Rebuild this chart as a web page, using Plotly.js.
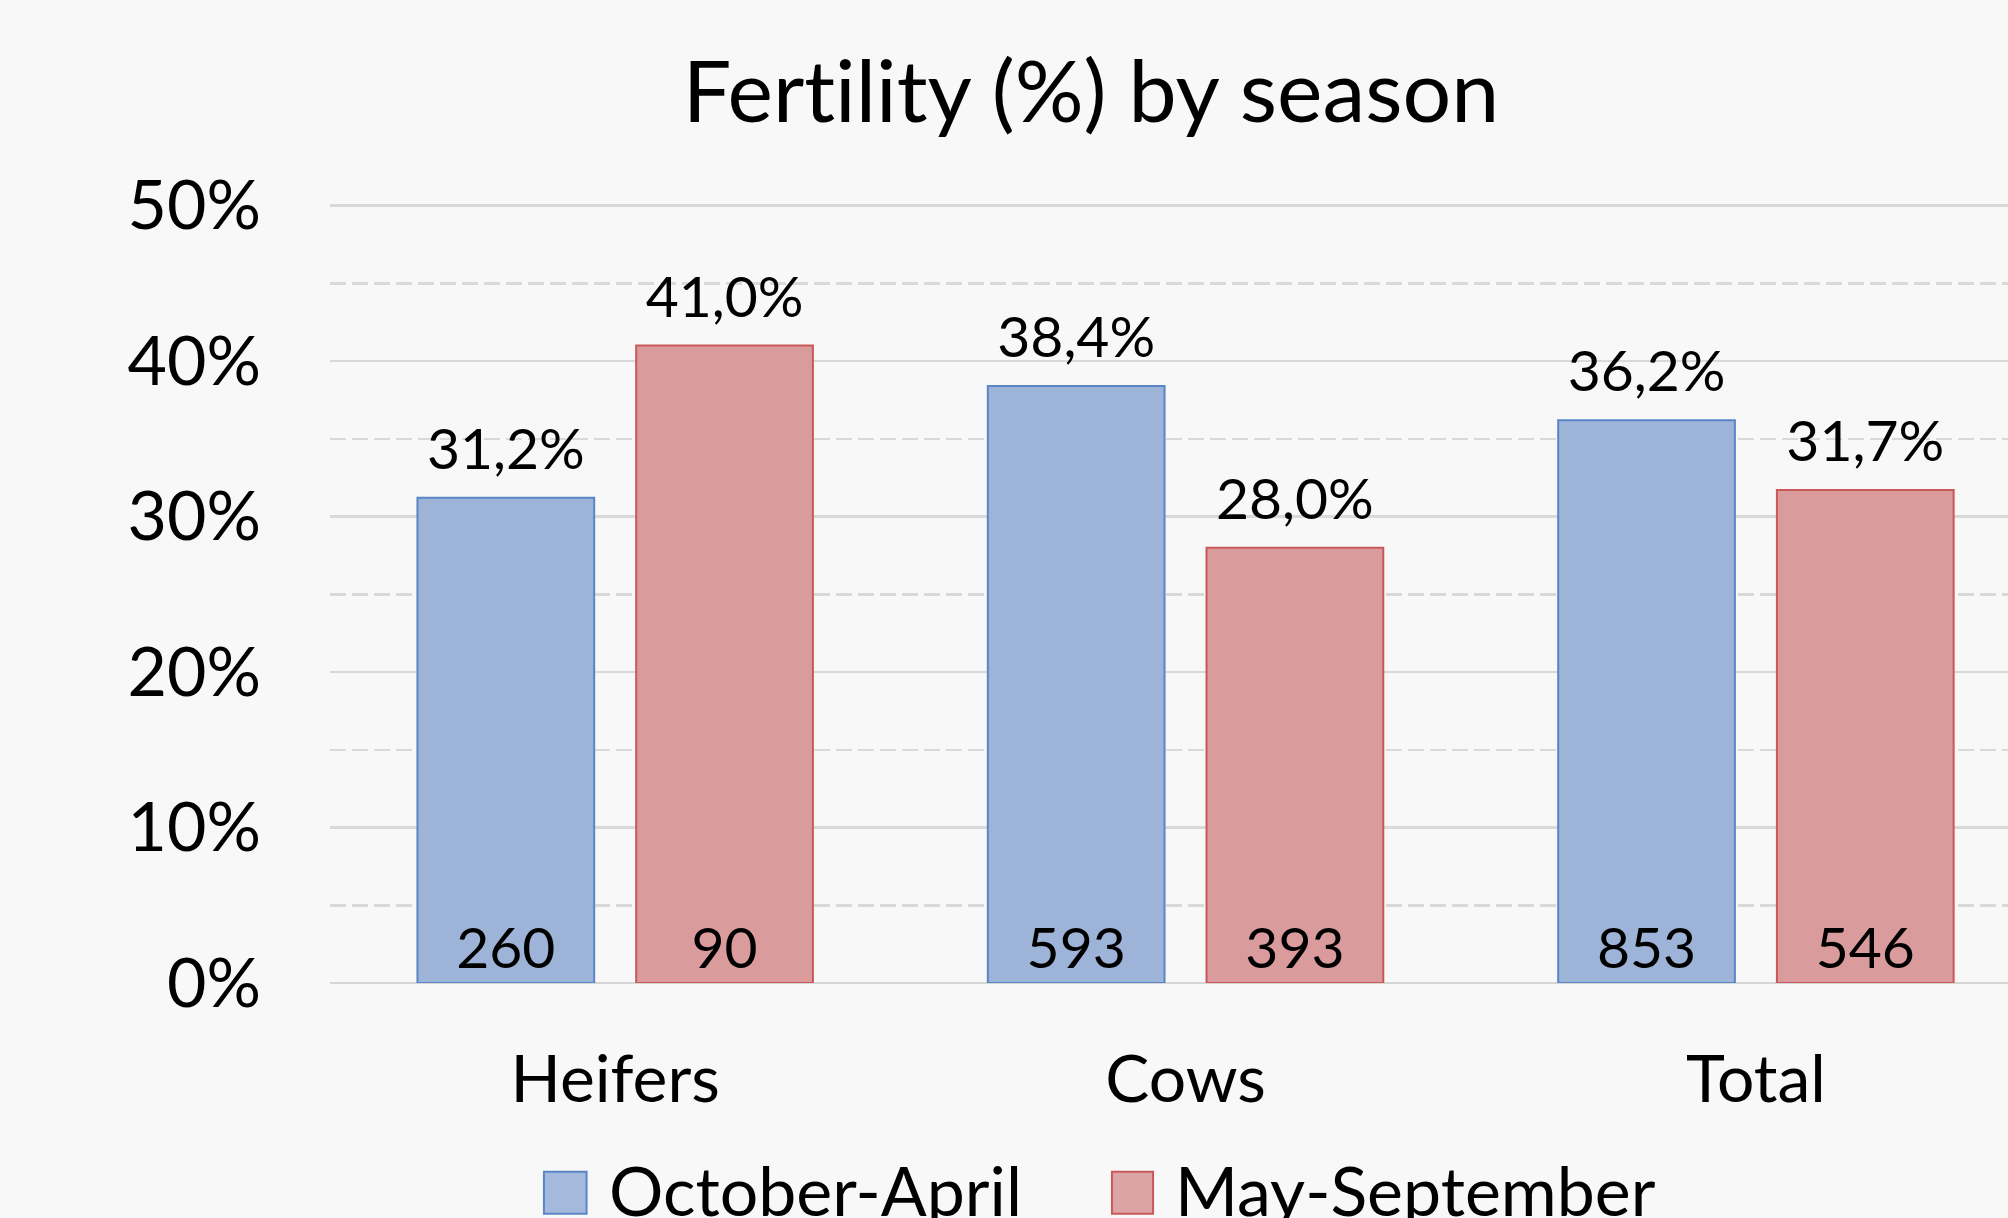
<!DOCTYPE html>
<html>
<head>
<meta charset="utf-8">
<script src="https://cdn.plot.ly/plotly-3.0.1.min.js"></script>
<style>html,body{margin:0;padding:0;background:#f8f8f8;}#chart{width:2008px;height:1218px;}
text{font-variant-ligatures:none;font-feature-settings:"liga" 0;}</style>
</head>
<body>
<div id="chart"></div>
<script>
// ---- data ----
const categories = ['Heifers', 'Cows', 'Total'];
const seriesNames = ['October-April', 'May-September'];
const octAprPct = [31.2, 38.4, 36.2];
const maySepPct = [41.0, 28.0, 31.7];
const octAprN = [260, 593, 853];
const maySepN = [90, 393, 546];
const yTicks = [0, 10, 20, 30, 40, 50];

const FONT = 'Lato, "Open Sans", sans-serif';
const blueFill = '#9db3d8', blueLine = '#5a86c6';
const redFill = '#d99b9b', redLine = '#c9585a';
const LABEL_PAD = 0.9; // label lift above bar top (axis units), style only

function countTrace(name, y, n, fill, line, grp) {
  return {
    type: 'bar', name: name, x: categories, y: y, offsetgroup: grp,
    marker: {color: fill, line: {color: line, width: 2}},
    text: n.map(String), textposition: 'inside', insidetextanchor: 'start',
    insidetextfont: {family: FONT, size: 57, color: '#000'},
    showlegend: false, hoverinfo: 'skip'
  };
}
function pctTrace(name, y, grp) {
  return {
    type: 'bar', name: name, x: categories, base: y, y: y.map(() => LABEL_PAD), offsetgroup: grp,
    marker: {color: 'rgba(0,0,0,0)', line: {width: 0}},
    text: y.map(v => v.toFixed(1).replace('.', ',') + '%'), textposition: 'outside', cliponaxis: false,
    outsidetextfont: {family: FONT, size: 57, color: '#000'},
    showlegend: false, hoverinfo: 'skip'
  };
}

const data = [
  countTrace(seriesNames[0], octAprPct, octAprN, blueFill, blueLine, 'a'),
  countTrace(seriesNames[1], maySepPct, maySepN, redFill, redLine, 'b'),
  pctTrace(seriesNames[0], octAprPct, 'a'),
  pctTrace(seriesNames[1], maySepPct, 'b')
];

// legend (drawn manually to get large symbols)
const legendItems = [
  {name: seriesNames[0], fill: '#a4b9db', line: blueLine, x0: 0.1275, x1: 0.1529, tx: 0.1651},
  {name: seriesNames[1], fill: '#dba5a5', line: redLine, x0: 0.4660, x1: 0.4905, tx: 0.5024}
];

const layout = {
  width: 2008, height: 1218,
  paper_bgcolor: '#f8f8f8', plot_bgcolor: '#f8f8f8',
  separators: ',.',
  margin: {l: 330, r: 0, t: 204, b: 235, pad: 0},
  font: {family: FONT, color: '#000'},
  title: {text: 'Fertility (%) by season', font: {family: FONT, size: 86, color: '#000'},
          x: 0.5433, xref: 'container', xanchor: 'center', y: 0.9245, yref: 'container', yanchor: 'middle'},
  barmode: 'group', bargap: 0.233, bargroupgap: 0.192,
  xaxis: {type: 'category', range: [-0.5, 2.442], showgrid: false, zeroline: false, showline: false,
          ticks: '', tickfont: {family: FONT, size: 66, color: '#000'}, ticklabelstandoff: 52, fixedrange: true},
  yaxis: {range: [0, 50.1], tickvals: yTicks, ticktext: yTicks.map(v => v + '%'),
          showgrid: true, gridcolor: '#d9d9d9', gridwidth: 2.5,
          zeroline: true, zerolinecolor: '#d6d6d6', zerolinewidth: 2.5, showline: false,
          minor: {dtick: 5, showgrid: true, gridcolor: '#d9d9d9', gridwidth: 2.5, griddash: '16px,6px', ticks: ''},
          ticks: '', tickfont: {family: FONT, size: 68, color: '#000'}, ticklabelstandoff: 68, fixedrange: true},
  showlegend: false,
  shapes: legendItems.map(it => ({type: 'rect', xref: 'paper', yref: 'paper',
    x0: it.x0, x1: it.x1, y0: -0.2963, y1: -0.2423,
    fillcolor: it.fill, line: {color: it.line, width: 2}})),
  annotations: legendItems.map(it => ({xref: 'paper', yref: 'paper', x: it.tx, y: -0.2654,
    xanchor: 'left', yanchor: 'middle', showarrow: false, text: it.name,
    font: {family: FONT, size: 68, color: '#000'}}))
};

Plotly.newPlot('chart', data, layout, {displayModeBar: false, staticPlot: true});
</script>
</body>
</html>
